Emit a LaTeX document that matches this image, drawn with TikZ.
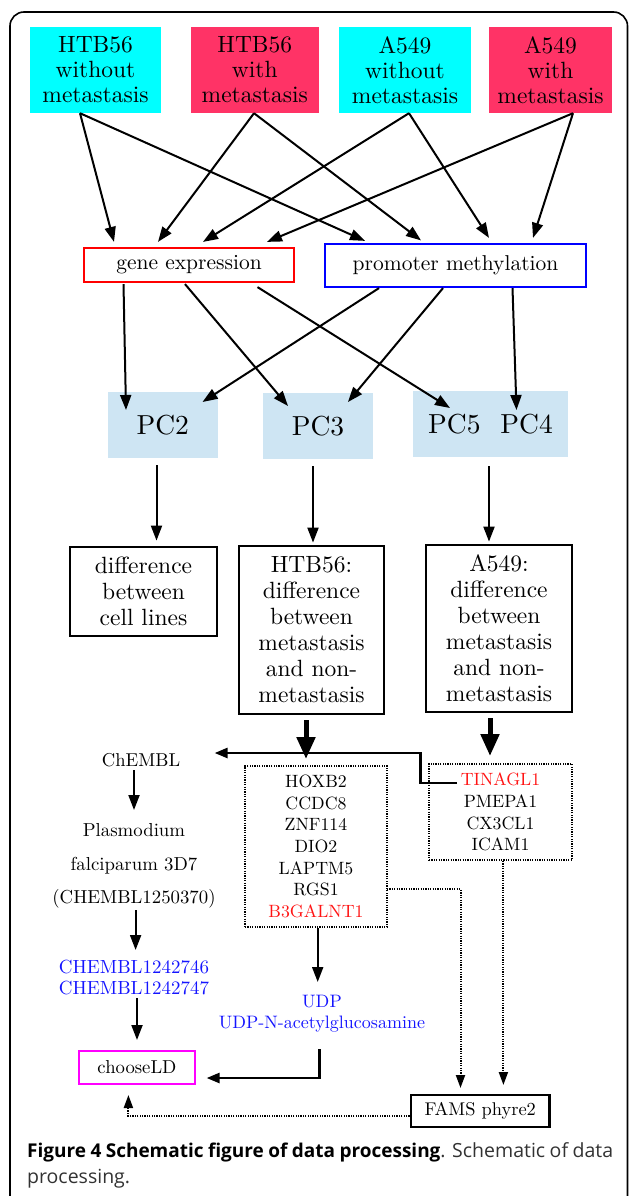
\documentclass[tikz,border=0pt]{standalone}
\usepackage{fontspec}
\setmainfont{lmroman10-regular}[Extension=.otf,BoldFont=lmroman10-bold,ItalicFont=lmroman10-italic]
\newfontfamily\capfont{Open Sans}
\usetikzlibrary{arrows.meta,calc}
\definecolor{cy}{RGB}{0,255,255}
\definecolor{pk}{RGB}{255,51,102}
\definecolor{pcb}{RGB}{206,229,243}
\definecolor{txtblue}{RGB}{20,20,255}
\definecolor{txtred}{RGB}{255,20,20}
\definecolor{mag}{RGB}{255,0,255}
\definecolor{capgray}{RGB}{50,50,50}
\begin{document}
\begin{tikzpicture}[x=1pt,y=1pt,
  topbox/.style={minimum height=86pt,inner sep=0pt,align=center,font=\fontsize{23.5}{25}\selectfont},
  midbox/.style={inner sep=0pt,line width=2.2pt,font=\fontsize{21.5}{26}\selectfont},
  pcbox/.style={fill=pcb,minimum height=66pt,inner sep=0pt,font=\fontsize{27.5}{30}\selectfont},
  lbox/.style={draw,line width=2.8pt,inner sep=0pt,align=center,font=\fontsize{23.5}{26}\selectfont},
  genebox/.style={draw,line width=2pt,dash pattern=on 1.2pt off 1.2pt,inner sep=0pt,align=center,font=\fontsize{17.8}{21.7}\selectfont},
  small/.style={inner sep=0pt,align=center,font=\fontsize{18.6}{21}\selectfont},
  arr/.style={-{Triangle[length=15pt,width=11pt]},line width=2pt},
  thickarr/.style={-{Triangle[length=22pt,width=18pt]},line width=5pt},
  medarr/.style={-{Triangle[length=13pt,width=10pt]},line width=2.6pt},
  dotarr/.style={-{Triangle[length=13pt,width=9pt]},line width=2pt,dash pattern=on 1.2pt off 1.2pt}]
\useasboundingbox (0,0) rectangle (629,-1196);
% frame
\draw[line width=1.6pt,rounded corners=14pt] (10,-1230) -- (10,-12) -- (627.5,-12) -- (627.5,-1230);

% top boxes
\node[topbox,fill=cy,minimum width=131pt] (t1) at (95.5,-70) {HTB56\\without\\metastasis};
\node[topbox,fill=pk,minimum width=128.5pt] (t2) at (254.75,-70) {HTB56\\with\\metastasis};
\node[topbox,fill=cy,minimum width=132pt] (t3) at (405,-70) {A549\\without\\metastasis};
\node[topbox,fill=pk,minimum width=123pt] (t4) at (550.5,-70) {A549\\with\\metastasis};

% data type boxes
\node[midbox,draw=red,minimum width=210pt,minimum height=34pt] (gene) at (189,-265) {gene expression};
\node[midbox,draw=blue,minimum width=261pt,minimum height=43pt] (prom) at (455.5,-265.5) {promoter methylation};

% top arrows
\draw[arr] ([xshift=-15.5pt]t1.south) -- ($(gene.north)+(-75,5)$);
\draw[arr] ([xshift=-15.5pt]t1.south) -- ($(prom.north)+(-90.5,2)$);
\draw[arr] ([xshift=-0.75pt]t2.south) -- ($(gene.north)+(-31,5)$);
\draw[arr] ([xshift=-0.75pt]t2.south) -- ($(prom.north)+(-34.5,2.5)$);
\draw[arr] ([xshift=4pt]t3.south) -- ($(gene.north)+(14,5)$);
\draw[arr] ([xshift=4pt]t3.south) -- ($(prom.north)+(33.5,5)$);
\draw[arr] ([xshift=22.5pt]t4.south) -- ($(gene.north)+(78,5)$);
\draw[arr] ([xshift=22.5pt]t4.south) -- ($(prom.north)+(77.5,5)$);

% PC boxes
\node[pcbox,minimum width=110.5pt] (pc2) at (162.75,-425) {PC2};
\node[pcbox,minimum width=110pt] (pc3) at (318,-426) {PC3};
\node[pcbox,minimum width=155pt] (pc54) at (490.5,-424) {PC5\hspace{20pt}PC4};

\draw[arr] ([xshift=-65.5pt,yshift=-1pt]gene.south) -- ($(pc2.center)+(-36.75,15)$);
\draw[arr] ([xshift=-4pt,yshift=-1pt]gene.south) -- ($(pc3.center)+(-30,20)$);
\draw[arr] ([xshift=68.5pt,yshift=-4pt]gene.south) -- ($(pc54.center)+(-40.5,16)$);
\draw[arr] ([xshift=-76.5pt]prom.south) -- ($(pc2.center)+(39.75,23)$);
\draw[arr] ([xshift=-12.5pt]prom.south) -- ($(pc3.center)+(30,24)$);
\draw[arr] ([xshift=57pt]prom.south) -- ($(pc54.center)+(26,14)$);

% lower boxes
\node[lbox,minimum width=147pt,minimum height=89pt] (cell) at (143.5,-591.5) {difference\\between\\cell lines};
\node[lbox,minimum width=145pt,minimum height=168pt] (htb) at (311.5,-630) {HTB56:\\difference\\between\\metastasis\\and non-\\metastasis};
\node[lbox,minimum width=146pt,minimum height=167pt] (a549) at (499,-628.5) {A549:\\difference\\between\\metastasis\\and non-\\metastasis};

\draw[arr] ([xshift=-6.25pt,yshift=-7pt]pc2.south) -- ([xshift=13pt,yshift=5pt]cell.north);
\draw[arr] ([xshift=-5pt,yshift=-7pt]pc3.south) -- ([xshift=1.5pt,yshift=2pt]htb.north);
\draw[arr] ([xshift=-1.5pt,yshift=-9pt]pc54.south) -- ([xshift=-10pt,yshift=2pt]a549.north);

% gene lists
\node[genebox,minimum width=142pt,minimum height=161pt] (genes1) at (316,-846.5) {HOXB2\\CCDC8\\ZNF114\\DIO2\\LAPTM5\\RGS1\\\textcolor{txtred}{B3GALNT1}};
\node[genebox,minimum width=143pt,minimum height=96pt] (genes2) at (500.5,-812) {\textcolor{txtred}{TINAGL1}\\PMEPA1\\CX3CL1\\ICAM1};

\draw[thickarr] ([xshift=-5.5pt,yshift=-5pt]htb.south) -- ([xshift=-10pt,yshift=6pt]genes1.north);
\draw[thickarr] ([xshift=-9pt,yshift=-5pt]a549.south) -- ([xshift=-10.5pt,yshift=7pt]genes2.north);

% left column
\node[small] (chembl) at (141,-760) {ChEMBL};
\node[small,font=\fontsize{18.8}{33.5}\selectfont] (plas) at (134,-866) {Plasmodium\\falciparum 3D7\\(CHEMBL1250370)};
\node[small,font=\fontsize{19}{21}\selectfont,text=txtblue] (chem2) at (134,-977.5) {CHEMBL1242746\\CHEMBL1242747};
\node[draw=mag,line width=2.5pt,minimum width=116pt,minimum height=33pt,inner sep=0pt,font=\fontsize{18.7}{21}\selectfont] (choose) at (137,-1067.5) {chooseLD};
\node[small,font=\fontsize{18}{21}\selectfont,text=txtblue] (udp) at (322,-1013.5) {UDP\\UDP-N-acetylglucosamine};
\node[draw,line width=2.8pt,minimum width=138.5pt,minimum height=32pt,inner sep=0pt,font=\fontsize{18.4}{21}\selectfont] (fams) at (480.25,-1111) {FAMS phyre2};

\draw[medarr] ($(genes2.center)+(-43.5,29)$) -- ++(-36.6,0) |- ($(chembl.center)+(73.6,7)$);
\draw[arr] ($(chembl.center)+(-7,-10)$) -- ($(plas.center)+(0,56)$);
\draw[arr] ($(plas.center)+(1.6,-44)$) -- ($(chem2.center)+(1.6,27.5)$);
\draw[arr] ($(chem2.center)+(3,-20.5)$) -- ($(choose.center)+(0,27.5)$);
\draw[arr] ([xshift=1.7pt]genes1.south) -- ($(udp.center)+(-4.3,31.5)$);
\draw[medarr] ($(udp.center)+(-2.3,-35.5)$) |- ($(choose.center)+(69.6,-10.5)$);

\draw[dotarr] ($(genes1.center)+(71,-42.5)$) -| ($(fams.center)+(-19.75,23)$);
\draw[dotarr] ([xshift=2.9pt]genes2.south) -- ($(fams.center)+(23.15,26)$);
\draw[dotarr] ($(fams.west)+(0,-5)$) -| ($(choose.center)+(-8.6,-27.5)$);

% caption
\node[anchor=base west,inner sep=0pt,text=capgray] (cap1) at (27,-1157) {\capfont\fontsize{19.5}{26}\selectfont\makebox[586pt][s]{\textcolor{black}{\fontsize{19}{26}\selectfont\textbf{Figure 4 Schematic figure of data processing}}. Schematic of data}};
\node[anchor=base west,inner sep=0pt,text=capgray] (cap2) at (27,-1183) {\capfont\fontsize{19.5}{26}\selectfont processing.};
\end{tikzpicture}
\end{document}
